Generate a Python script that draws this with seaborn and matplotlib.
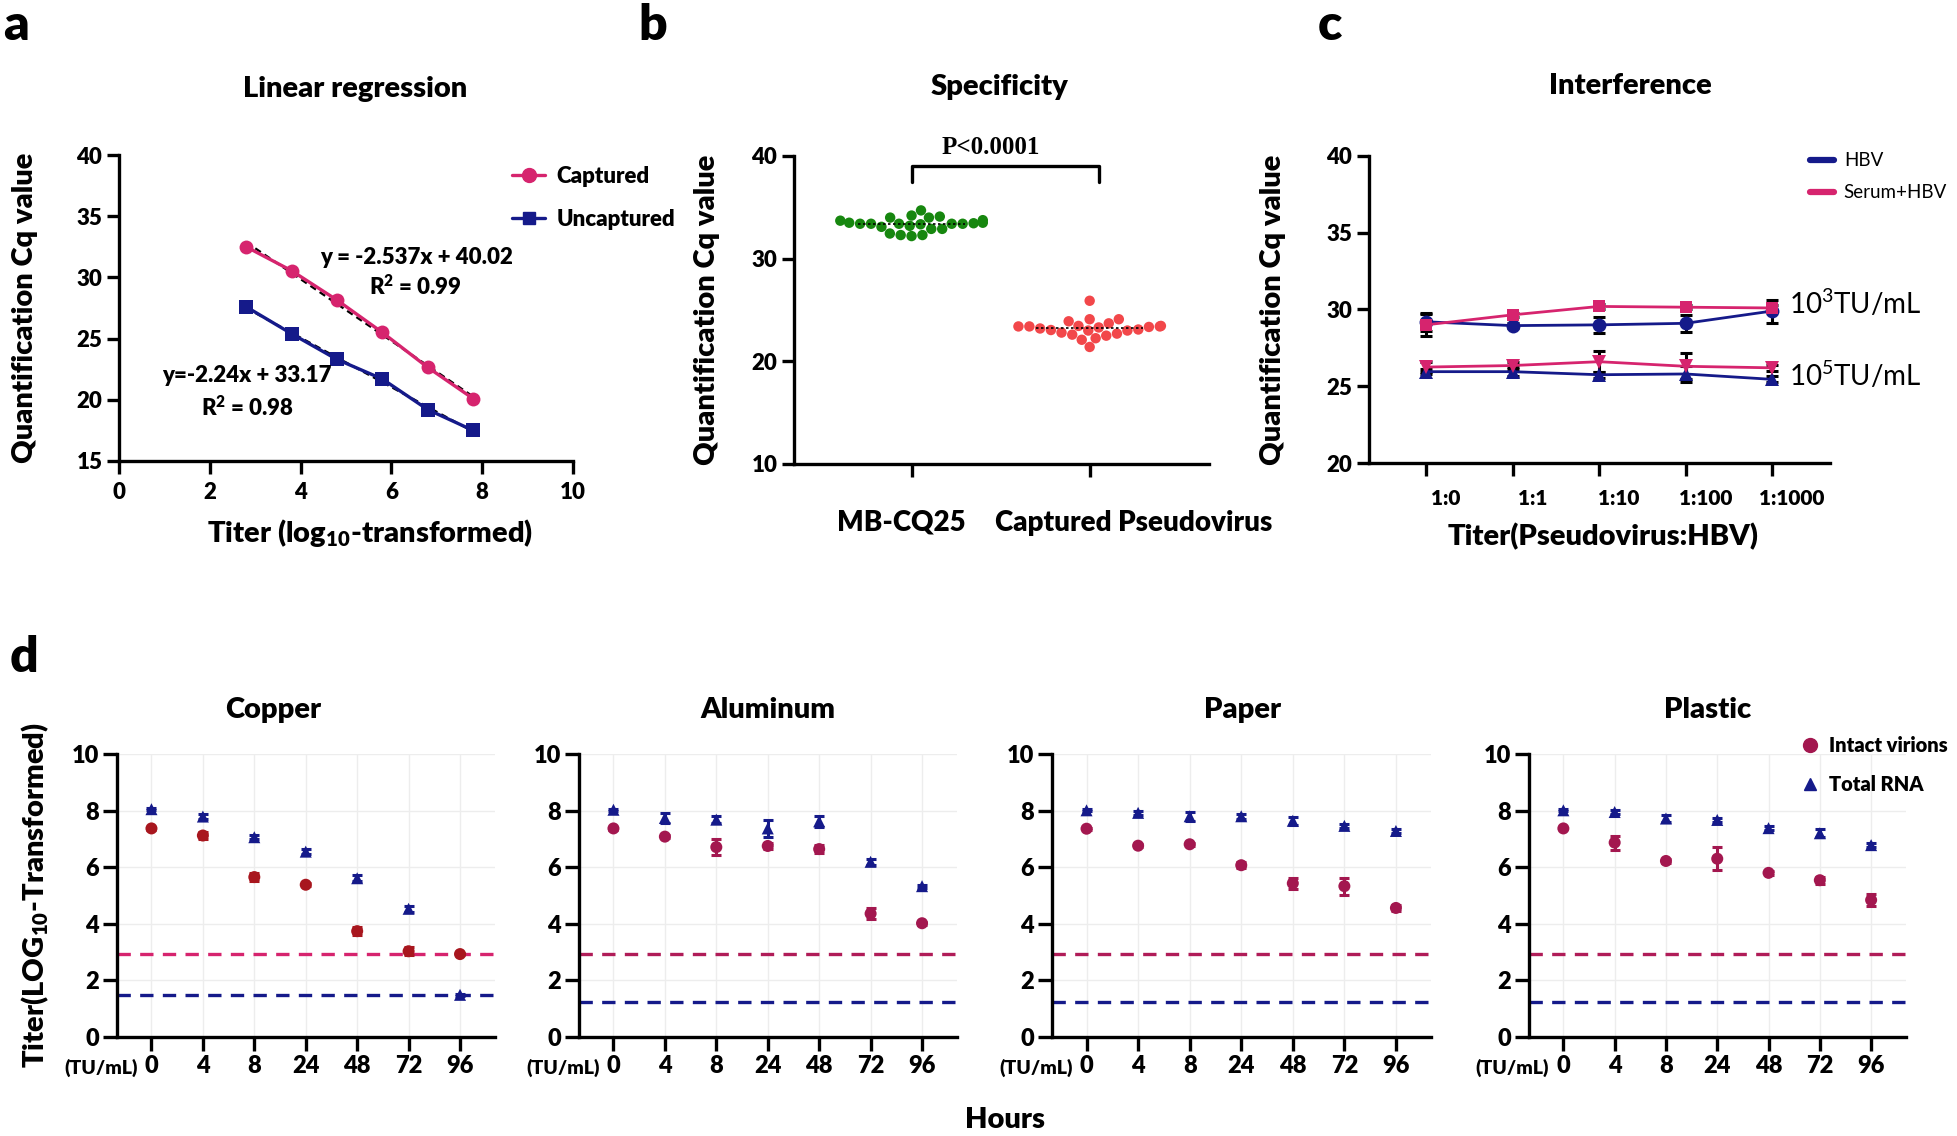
import numpy as np
import pandas as pd
import matplotlib
matplotlib.use("Agg")
import matplotlib.pyplot as plt
import matplotlib.transforms as mtransforms
from matplotlib.lines import Line2D
import seaborn as sns

# ---- a: linear regression
titer_log10 = [2.8, 3.8, 4.8, 5.8, 6.8, 7.8]
cq_captured = [32.5, 30.55, 28.15, 25.5, 22.65, 20.1]
cq_uncaptured = [27.6, 25.4, 23.3, 21.7, 19.2, 17.5]

# ---- b: specificity
cq_mb_cq25 = [34.2, 33.2, 33.4, 33.1, 33.5, 33.5, 33.4, 32.3, 34.1, 32.9, 33.4, 32.3,
              34.0, 32.9, 33.75, 32.2, 33.35, 32.45, 33.4, 34.0, 33.4, 33.7, 34.7, 33.45]
cq_pseudovirus = [23.4, 23.45, 23.4, 22.5, 23.4, 23.7, 22.7, 23.9, 21.4, 23.0, 23.45, 22.6,
                  25.9, 24.1, 22.1, 23.05, 22.25, 22.8, 23.0, 24.1, 23.1, 23.2, 23.3, 23.35]

# ---- c: interference
ratios = ["1:0", "1:1", "1:10", "1:100", "1:1000"]
hbv_1e3 = [29.2, 28.95, 29.0, 29.1, 29.9]
hbv_1e3_sd = [0.6, 0.15, 0.5, 0.55, 0.75]
serum_1e3 = [29.0, 29.65, 30.2, 30.15, 30.1]
serum_1e3_sd = [0.7, 0.15, 0.15, 0.15, 0.2]
hbv_1e5 = [25.95, 25.95, 25.75, 25.8, 25.45]
hbv_1e5_sd = [0.15, 0.3, 0.2, 0.5, 0.2]
serum_1e5 = [26.25, 26.35, 26.6, 26.3, 26.2]
serum_1e5_sd = [0.35, 0.2, 0.7, 0.85, 0.2]

# ---- d: persistence on surfaces
hours = ["0", "4", "8", "24", "48", "72", "96"]
materials = ["Copper", "Aluminum", "Paper", "Plastic"]
copper_intact = [7.37, 7.12, 5.65, 5.38, 3.74, 3.03, 2.93]
copper_intact_sd = [0.05, 0.12, 0.15, 0.05, 0.15, 0.15, 0.05]
copper_rna = [8.05, 7.79, 7.06, 6.55, 5.61, 4.53, 1.49]
copper_rna_sd = [0.03, 0.1, 0.08, 0.1, 0.1, 0.1, 0.03]
aluminum_intact = [7.37, 7.08, 6.71, 6.75, 6.64, 4.36, 4.02]
aluminum_intact_sd = [0.05, 0.05, 0.28, 0.12, 0.15, 0.2, 0.05]
aluminum_rna = [8.03, 7.74, 7.68, 7.37, 7.62, 6.19, 5.33]
aluminum_rna_sd = [0.03, 0.18, 0.13, 0.3, 0.2, 0.1, 0.05]
paper_intact = [7.36, 6.76, 6.81, 6.07, 5.43, 5.33, 4.56]
paper_intact_sd = [0.03, 0.05, 0.05, 0.1, 0.2, 0.3, 0.1]
paper_rna = [8.01, 7.92, 7.8, 7.8, 7.64, 7.46, 7.28]
paper_rna_sd = [0.03, 0.06, 0.15, 0.08, 0.15, 0.06, 0.08]
plastic_intact = [7.37, 6.87, 6.22, 6.3, 5.8, 5.54, 4.84]
plastic_intact_sd = [0.03, 0.25, 0.08, 0.4, 0.08, 0.12, 0.22]
plastic_rna = [8.01, 7.95, 7.72, 7.67, 7.38, 7.2, 6.78]
plastic_rna_sd = [0.03, 0.07, 0.12, 0.07, 0.08, 0.15, 0.06]
lod_intact = [2.95, 2.93, 2.94, 2.94]
lod_rna = [1.5, 1.24, 1.24, 1.24]

PINK = "#D6246E"
NAVY = "#151A8A"
GREEN = "#17870F"
RED = "#F2474A"
COPPER_RED = "#A8161E"
RASP = "#A3174F"

sns.set_theme(style="ticks")
plt.rcParams["font.family"] = ["Lato", "DejaVu Sans"]
plt.rcParams.update({
    "font.weight": "heavy", "axes.labelweight": "heavy", "axes.titleweight": "heavy",
    "mathtext.default": "regular",
    "axes.linewidth": 2.4, "axes.edgecolor": "black",
    "xtick.major.width": 2.4, "ytick.major.width": 2.4,
    "xtick.major.size": 9, "ytick.major.size": 9,
    "xtick.color": "black", "ytick.color": "black",
    "text.color": "black", "axes.labelcolor": "black",
})

W, H = 1957, 1136
fig = plt.figure(figsize=(W / 100, H / 100), dpi=100)


def add_ax(l, t, r, b):
    return fig.add_axes([l / W, 1 - b / H, (r - l) / W, (b - t) / H])


def ftext(x, y, s, **kw):
    kw.setdefault("ha", "center")
    kw.setdefault("va", "center")
    return fig.text(x / W, 1 - y / H, s, **kw)


def style(ax, size=16):
    sns.despine(ax=ax)
    ax.tick_params(labelsize=size, length=9, width=2.4)


def ylabel_at(ax, text, xpx, l, r, size=21):
    ax.set_ylabel(text, fontsize=size)
    ax.yaxis.label.set_va("center")
    ax.yaxis.set_label_coords((xpx - l) / (r - l), 0.5)


# ================= a =================
la, ta, ra, ba = 119, 155, 573, 461
ax = add_ax(la, ta, ra, ba)
for cq in (cq_captured, cq_uncaptured):
    sns.regplot(x=titer_log10, y=cq, scatter=False, ci=None, color="black", ax=ax,
                line_kws={"lw": 1.6, "ls": (0, (3, 2)), "zorder": 1})
df_a = pd.DataFrame({"titer": titer_log10 * 2, "cq": cq_captured + cq_uncaptured,
                     "group": ["Captured"] * len(titer_log10) + ["Uncaptured"] * len(titer_log10)})
sns.lineplot(data=df_a, x="titer", y="cq", hue="group", style="group",
             markers={"Captured": "o", "Uncaptured": "s"}, dashes=False,
             palette={"Captured": PINK, "Uncaptured": NAVY}, lw=2.4, markersize=10,
             markeredgewidth=0, ax=ax, zorder=2, legend=False)
ax.set_xlim(0, 10)
ax.set_ylim(15, 40)
ax.set_xticks(range(0, 11, 2))
ax.set_yticks(range(15, 41, 5))
style(ax)
ax.tick_params(axis="x", pad=6)
ax.tick_params(axis="y", pad=3)
ylabel_at(ax, "Quantification Cq value", 25, la, ra)
ax.set_xlabel("Titer (log$_{10}$-transformed)", fontsize=21)
ax.xaxis.label.set_va("center")
ax.xaxis.set_label_coords((370 - la) / (ra - la), -(533 - ba) / (ba - ta))
ax.legend(handles=[Line2D([], [], color=PINK, lw=2.4, marker="o", ms=10),
                   Line2D([], [], color=NAVY, lw=2.4, marker="s", ms=9)],
          labels=["Captured", "Uncaptured"], frameon=False, fontsize=16,
          loc="center left", bbox_to_anchor=(512 / W, 1 - 198 / H), bbox_transform=fig.transFigure,
          borderpad=0, borderaxespad=0, handlelength=1.5, handletextpad=0.5, labelspacing=1.0)
ftext(417, 257, "y = -2.537x + 40.02", fontsize=16)
ftext(415, 287, "R$^2$ = 0.99", fontsize=16)
ftext(247, 376, "y=-2.24x + 33.17", fontsize=16)
ftext(247, 408, "R$^2$ = 0.98", fontsize=16)
ftext(355, 89, "Linear regression", fontsize=21)

# ================= b =================
lb, tb, rb, bb = 794, 156, 1209, 464
ax = add_ax(lb, tb, rb, bb)
samples = ["MB-CQ25", "Captured Pseudovirus"]
df_b = pd.DataFrame({"sample": [samples[0]] * len(cq_mb_cq25) + [samples[1]] * len(cq_pseudovirus),
                     "cq": cq_mb_cq25 + cq_pseudovirus})
sns.swarmplot(data=df_b, x="sample", y="cq", hue="sample", palette=[GREEN, RED], size=7.5,
              linewidth=0, legend=False, ax=ax, zorder=2)
for i, vals in enumerate((cq_mb_cq25, cq_pseudovirus)):
    ax.hlines(np.median(vals), i - 0.3, i + 0.3, color="black", lw=1.2, ls=(0, (1.5, 1.5)), zorder=3)
ax.set_xlim(-0.66, 1.67)
ax.set_ylim(10, 40)
ax.set_yticks(range(10, 41, 10))
style(ax)
ax.tick_params(axis="x", pad=24, labelsize=20)
ax.tick_params(axis="y", pad=3)
ax.set_xlabel("")
ylabel_at(ax, "Quantification Cq value", 707, lb, rb)
for lab, dx in zip(ax.get_xticklabels(), (-10, 44)):
    lab.set_transform(lab.get_transform() + mtransforms.ScaledTranslation(dx / 100, 0, fig.dpi_scale_trans))
ax.plot([0, 0, 1.05, 1.05], [37.5, 39.0, 39.0, 37.5], color="black", lw=2.4, clip_on=False)
ax.text(0.445, 40.8, "P<0.0001", ha="center", va="center", fontsize=18,
        family=["Liberation Serif", "DejaVu Serif"], fontweight="bold")
ftext(999, 87, "Specificity", fontsize=21)

# ================= c =================
lc, tc, rc, bc = 1369, 156, 1830, 463
ax = add_ax(lc, tc, rc, bc)
series_c = [(hbv_1e3, hbv_1e3_sd, NAVY, "o", 10),
            (serum_1e3, serum_1e3_sd, PINK, "s", 9),
            (hbv_1e5, hbv_1e5_sd, NAVY, "^", 10),
            (serum_1e5, serum_1e5_sd, PINK, "v", 10)]
for vals, sd, col, mk, ms in series_c:
    ax.errorbar(range(len(ratios)), vals, yerr=sd, fmt="none", ecolor="black",
                elinewidth=2.2, capsize=4, capthick=2.2, zorder=1)
    sns.lineplot(x=ratios, y=vals, color=col, marker=mk, markersize=ms, markeredgewidth=0,
                 lw=2, ax=ax, zorder=2)
ax.set_xlim(-0.66, 4.67)
ax.set_ylim(20, 40)
ax.set_yticks(range(20, 41, 5))
style(ax)
ax.tick_params(axis="x", labelsize=15, pad=10)
ax.tick_params(axis="y", pad=3)
for lab in ax.get_xticklabels():
    lab.set_transform(lab.get_transform() + mtransforms.ScaledTranslation(0.2, 0, fig.dpi_scale_trans))
ylabel_at(ax, "Quantification Cq value", 1273, lc, rc)
ax.set_xlabel("Titer(Pseudovirus:HBV)", fontsize=21)
ax.xaxis.label.set_va("center")
ax.xaxis.set_label_coords((1603 - lc) / (rc - lc), -(537 - bc) / (bc - tc))
ax.legend(handles=[Line2D([], [], color=NAVY, lw=4.5), Line2D([], [], color=PINK, lw=4.5)],
          labels=["HBV", "Serum+HBV"], frameon=False, prop={"size": 13.5, "weight": "normal"},
          loc="center left", bbox_to_anchor=(1810 / W, 1 - 177 / H), bbox_transform=fig.transFigure,
          borderpad=0, borderaxespad=0, handlelength=1.3, handletextpad=0.5, labelspacing=0.8)
ftext(1789, 303, "10$^3$TU/mL", fontsize=20, fontweight="normal", ha="left")
ftext(1789, 375, "10$^5$TU/mL", fontsize=20, fontweight="normal", ha="left")
ftext(1630, 86, "Interference", fontsize=21)

# ================= d =================
intact = [copper_intact, aluminum_intact, paper_intact, plastic_intact]
intact_sd = [copper_intact_sd, aluminum_intact_sd, paper_intact_sd, plastic_intact_sd]
rna = [copper_rna, aluminum_rna, paper_rna, plastic_rna]
rna_sd = [copper_rna_sd, aluminum_rna_sd, paper_rna_sd, plastic_rna_sd]
intact_col = [COPPER_RED, RASP, RASP, RASP]
lod_col = [PINK, "#B01C58", "#B01C58", "#B01C58"]
d_lr = [(117, 495), (579, 957), (1052, 1431), (1529, 1906)]
title_x = [273, 768, 1243, 1708]
td, bd = 754, 1037
for i, mat in enumerate(materials):
    l, r = d_lr[i]
    ax = add_ax(l, td, r, bd)
    ax.grid(True, color="#EDEDED", lw=1)
    ax.set_axisbelow(True)
    ax.axhline(lod_intact[i], color=lod_col[i], lw=2.4, dashes=(4, 2.8), zorder=1)
    ax.axhline(lod_rna[i], color=NAVY, lw=2.4, dashes=(4, 2.8), zorder=1)
    df_d = pd.DataFrame({"hours": hours * 2, "titer": intact[i] + rna[i],
                         "kind": ["Intact virions"] * len(hours) + ["Total RNA"] * len(hours)})
    sns.scatterplot(data=df_d, x="hours", y="titer", hue="kind", style="kind",
                    markers={"Intact virions": "o", "Total RNA": "^"},
                    palette={"Intact virions": intact_col[i], "Total RNA": NAVY},
                    s=75, linewidth=0, legend=False, ax=ax, zorder=3)
    ax.errorbar(range(len(hours)), intact[i], yerr=intact_sd[i], fmt="none", ecolor=intact_col[i],
                elinewidth=2.2, capsize=3.5, capthick=2.2, zorder=2)
    ax.errorbar(range(len(hours)), rna[i], yerr=rna_sd[i], fmt="none", ecolor=NAVY,
                elinewidth=2.2, capsize=3.5, capthick=2.2, zorder=2)
    ax.set_xlim(-0.67, 6.68)
    ax.set_ylim(0, 10)
    ax.set_yticks(range(0, 11, 2))
    style(ax, size=17)
    ax.tick_params(length=10, pad=3)
    ax.set_xlabel("")
    ax.set_ylabel("")
    ax.annotate("(TU/mL)", xy=(0, 0), xycoords=("data", "axes fraction"), xytext=(-14, -31),
                textcoords="offset pixels", ha="right", va="center", fontsize=14)
    ftext(title_x[i], 710, mat, fontsize=21)
    if i == 0:
        ylabel_at(ax, "Titer(LOG$_{10}$-Transformed)", 35, l, r)
    if i == 3:
        fig.legend(handles=[Line2D([], [], ls="", marker="o", color=intact_col[i], ms=10),
                            Line2D([], [], ls="", marker="^", color=NAVY, ms=9)],
                   labels=["Intact virions", "Total RNA"], frameon=False, fontsize=14.5,
                   loc="center left", bbox_to_anchor=(1800 / W, 1 - 765 / H),
                   borderpad=0, borderaxespad=0, handlelength=1.0, handletextpad=0.45,
                   labelspacing=1.0)

ftext(1005, 1120, "Hours", fontsize=21)

# panel letters
ftext(3, 40, "a", fontsize=36, ha="left", va="baseline")
ftext(638, 40, "b", fontsize=36, ha="left", va="baseline")
ftext(1318, 40, "c", fontsize=36, ha="left", va="baseline")
ftext(10, 672, "d", fontsize=36, ha="left", va="baseline")

fig.savefig("out.png", dpi=100)
